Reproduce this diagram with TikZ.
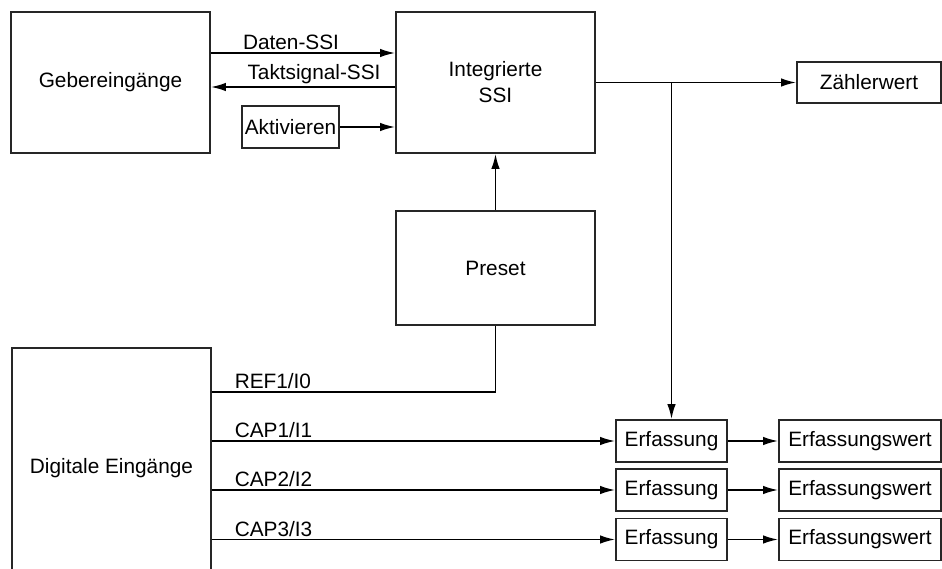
\documentclass[tikz,border=0pt]{standalone}
\usepackage{fontspec}
\setmainfont{Liberation Sans}
\usetikzlibrary{arrows.meta}

\begin{document}
\begin{tikzpicture}[x=1pt,y=-1pt,
   font=\fontsize{20.8}{26}\selectfont,
   box/.style={draw=black!85,line width=1.8pt,inner sep=0pt,align=center},
   arr/.style={draw=black,line width=1.7pt,-{Latex[length=15pt,width=8.5pt]}},
   wire/.style={draw=black,line width=1.7pt},
   lbl/.style={anchor=south west,xshift=20pt,inner sep=2pt}]
   \path[use as bounding box,clip] (0,0) rectangle (942,569);
   % boxes
   \node[box,minimum width=199pt,minimum height=141pt] (geb) at (110.5,82.5) {Gebereing\"ange};
   \node[box,minimum width=199pt,minimum height=141pt] (ssi) at (495.5,82.5) {Integrierte\\SSI};
   \node[box,minimum width=97pt,minimum height=42pt] (akt) at (290.5,127) {Aktivieren};
   \node[box,minimum width=144pt,minimum height=41pt] (zw) at (869,82.5) {Z\"ahlerwert};
   \node[box,minimum width=199pt,minimum height=114pt] (pre) at (495.5,268) {Preset};
   \node[box,minimum width=199pt,minimum height=240pt] (dig) at (111.5,468) {Digitale Eing\"ange};
   \node[box,minimum width=111pt,minimum height=42pt] (e1) at (671.5,441) {Erfassung};
   \node[box,minimum width=111pt,minimum height=42pt] (e2) at (671.5,490) {Erfassung};
   \node[box,minimum width=111pt,minimum height=42pt] (e3) at (671.5,539.5) {Erfassung};
   \node[box,minimum width=162pt,minimum height=42pt] (w1) at (860,441) {Erfassungswert};
   \node[box,minimum width=162pt,minimum height=42pt] (w2) at (860,490) {Erfassungswert};
   \node[box,minimum width=162pt,minimum height=42pt] (w3) at (860,539.5) {Erfassungswert};
   \coordinate (br) at (671.5,82.5);
   % SSI signals
   \draw[arr] ([yshift=29.5pt]geb.east) -- ([yshift=29.5pt]ssi.west) node[midway,above,xshift=-12pt,inner sep=2pt] {Daten-SSI};
   \draw[arr] ([yshift=-4.5pt]ssi.west) -- ([yshift=-4.5pt]geb.east) node[midway,above,xshift=11pt,inner sep=2pt] {Taktsignal-SSI};
   \draw[arr] (akt.east) -- (ssi.west |- akt.east);
   \draw[arr] (pre.north) -- (ssi.south);
   \draw[arr] (ssi.east) -- (zw.west);
   \draw[arr] (br) -- (e1.north);
   % digital inputs
   \draw[wire] ([yshift=76pt]dig.east) -| (pre.south) node[lbl,pos=0] {REF1/I0};
   \draw[arr] (dig.east |- e1.west) -- (e1.west) node[lbl,pos=0] {CAP1/I1};
   \draw[arr] (dig.east |- e2.west) -- (e2.west) node[lbl,pos=0] {CAP2/I2};
   \draw[arr] (dig.east |- e3.west) -- (e3.west) node[lbl,pos=0] {CAP3/I3};
   \draw[arr] (e1) -- (w1);
   \draw[arr] (e2) -- (w2);
   \draw[arr] (e3) -- (w3);
\end{tikzpicture}
\end{document}
